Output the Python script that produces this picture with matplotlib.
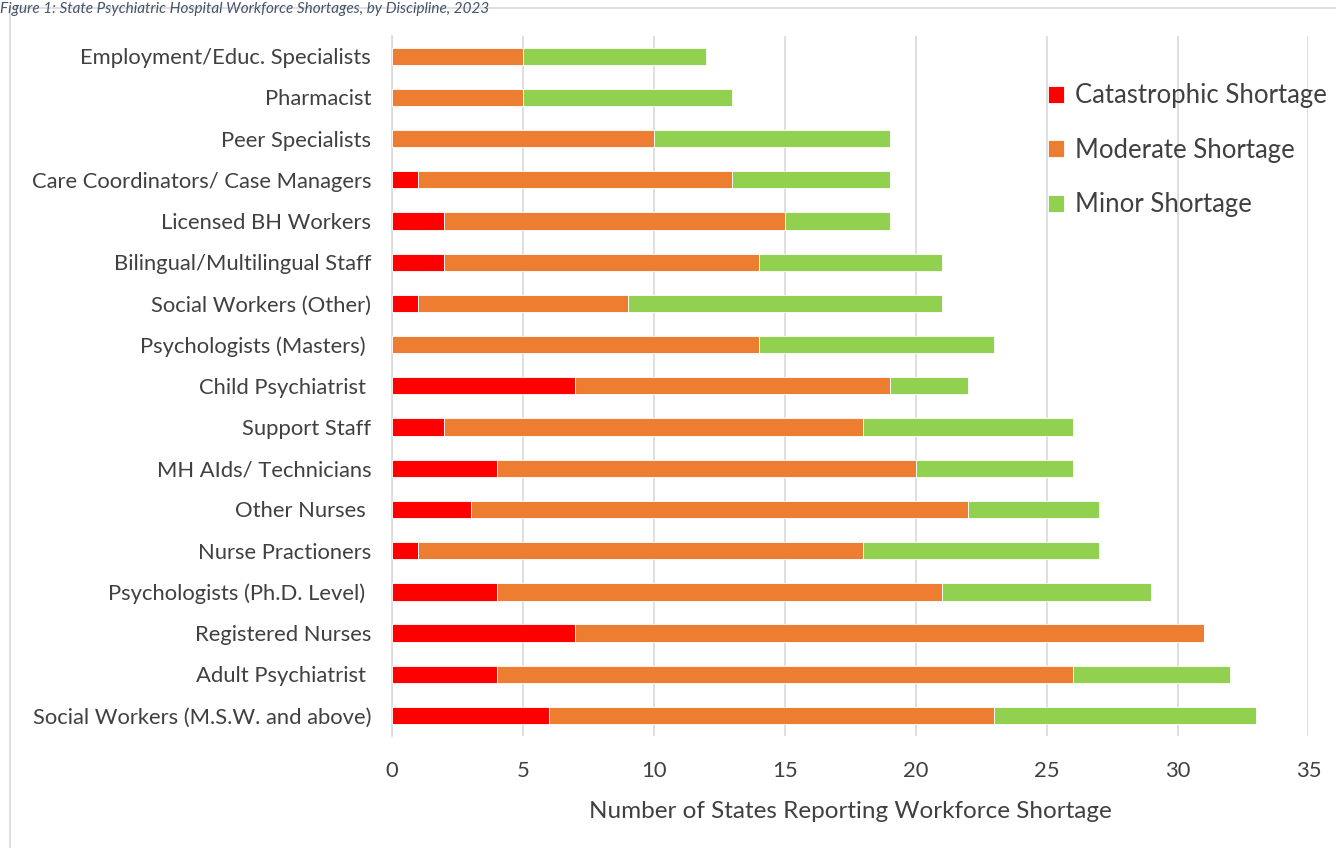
import numpy as np
import matplotlib.pyplot as plt
from matplotlib.patches import Rectangle

plt.rcParams['font.family'] = ['Lato', 'DejaVu Sans']

# categories from bottom to top
disciplines = ['Social Workers (M.S.W. and above)', 'Adult Psychiatrist ', 'Registered Nurses',
               'Psychologists (Ph.D. Level) ', 'Nurse Practioners', 'Other Nurses ',
               'MH AIds/ Technicians', 'Support Staff', 'Child Psychiatrist ',
               'Psychologists (Masters) ', 'Social Workers (Other)', 'Bilingual/Multilingual Staff',
               'Licensed BH Workers', 'Care Coordinators/ Case Managers', 'Peer Specialists',
               'Pharmacist', 'Employment/Educ. Specialists']
catastrophic = [6, 4, 7, 4, 1, 3, 4, 2, 7, 0, 1, 2, 2, 1, 0, 0, 0]
moderate = [17, 22, 24, 17, 17, 19, 16, 16, 12, 14, 8, 12, 13, 12, 10, 5, 5]
minor = [10, 6, 0, 8, 9, 5, 6, 8, 3, 9, 12, 7, 4, 6, 9, 8, 7]

fig = plt.figure(figsize=(13.36, 8.48), dpi=100)
ax = fig.add_axes([0.2934, 0.132, 0.686, 0.826])

y = np.arange(len(disciplines))
cat = np.array(catastrophic)
mod = np.array(moderate)
mino = np.array(minor)
h = 0.42
ax.barh(y, cat, height=h, color='#FF0000', edgecolor='white', linewidth=0.6,
        label='Catastrophic Shortage', zorder=3)
ax.barh(y, mod, left=cat, height=h, color='#ED7D31', edgecolor='white', linewidth=0.6,
        label='Moderate Shortage', zorder=3)
ax.barh(y, mino, left=cat + mod, height=h, color='#92D050', edgecolor='white', linewidth=0.6,
        label='Minor Shortage', zorder=3)

ax.set_xlim(0, 35)
ax.set_ylim(-0.5, len(disciplines) - 0.5)
ax.set_xticks(np.arange(0, 36, 5))
ax.set_yticks(y)
ax.set_yticklabels(disciplines)
ax.tick_params(axis='both', length=0, labelsize=15.8, colors='#404040')
ax.tick_params(axis='y', pad=15)
ax.tick_params(axis='x', pad=18)
ax.grid(axis='x', color='#D9D9D9', linewidth=1.2, zorder=0)
for s in ['top', 'right', 'bottom']:
    ax.spines[s].set_visible(False)
ax.spines['left'].set_color('#D9D9D9')
ax.spines['left'].set_linewidth(1.2)
ax.set_xlabel('Number of States Reporting Workforce Shortage', fontsize=17.5, color='#404040', labelpad=14)

leg = ax.legend(loc='upper right', bbox_to_anchor=(1.045, 0.965), frameon=False, fontsize=18.5,
                handlelength=0.65, handleheight=0.65, handletextpad=0.4, labelspacing=1.15,
                labelcolor='#404040')

# chart border and caption
fig.patches.append(Rectangle((0.0075, -0.1), 1.1, 1.09, transform=fig.transFigure,
                             fill=False, edgecolor='#D9D9D9', linewidth=1.2))
fig.text(0.0, 0.998, 'Figure 1: State Psychiatric Hospital Workforce Shortages, by Discipline, 2023',
         fontsize=11, style='italic', color='#44546A', va='top', ha='left')

fig.savefig('out.png', dpi=100)
